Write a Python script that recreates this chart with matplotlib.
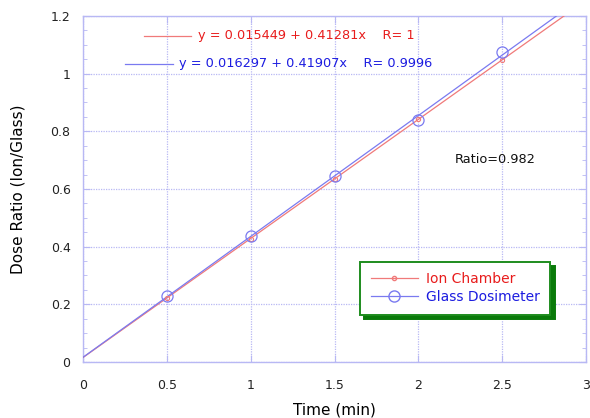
import matplotlib
matplotlib.use("Agg")
import matplotlib.pyplot as plt
from matplotlib.lines import Line2D
import numpy as np

plt.rcParams['font.family'] = ['DejaVu Sans']

# Measurements
time_min = [0.5, 1.0, 1.5, 2.0, 2.5]
ion_chamber = [0.222, 0.428, 0.635, 0.841, 1.047]
glass_dosimeter = [0.229, 0.4375, 0.646, 0.840, 1.076]

# Linear fit coefficients (intercept, slope, R)
ion_fit = (0.015449, 0.41281, 1)
glass_fit = (0.016297, 0.41907, 0.9996)
ratio = 0.982

x_ticks = [0, 0.5, 1, 1.5, 2, 2.5, 3]
y_ticks = [0, 0.2, 0.4, 0.6, 0.8, 1, 1.2]

RED_LINE = '#f07a7a'
BLUE_LINE = '#7a7af0'
RED_TEXT = '#e81c1c'
BLUE_TEXT = '#1c1ce0'
GRID = '#b8b8f4'

fig = plt.figure(figsize=(5.9, 4.18), dpi=100)
ax = fig.add_axes([0.1407, 0.134, 0.8525, 0.828])

xf = np.array([0.0, 3.0])
ax.plot(xf, ion_fit[0] + ion_fit[1] * xf, color=RED_LINE, lw=0.9, zorder=3)
ax.plot(xf, glass_fit[0] + glass_fit[1] * xf, color=BLUE_LINE, lw=0.9, zorder=3)
ax.plot(time_min, ion_chamber, 'o', ms=3, mfc='none', mec=RED_LINE, mew=0.8, zorder=4)
ax.plot(time_min, glass_dosimeter, 'o', ms=8, mfc='none', mec=BLUE_LINE, mew=0.9, zorder=4)

ax.set_xlim(0, 3)
ax.set_ylim(0, 1.2)
ax.set_xticks(x_ticks)
ax.set_xticklabels(['0', '0.5', '1', '1.5', '2', '2.5', '3'])
ax.set_yticks(y_ticks)
ax.set_yticklabels(['0', '0.2', '0.4', '0.6', '0.8', '1', '1.2'])
ax.set_yticks(np.arange(0, 1.2001, 0.05), minor=True)

ax.grid(True, which='major', color=GRID, ls=(0, (1, 1)), lw=0.9)
for s in ax.spines.values():
    s.set_color(GRID)
    s.set_linewidth(1.0)
ax.tick_params(which='both', direction='in', color=GRID, top=True, right=True,
               labelsize=9, labelcolor='#222222')
ax.tick_params(which='major', length=5)
ax.tick_params(which='minor', length=3)
ax.tick_params(axis='x', pad=12)
ax.tick_params(axis='y', pad=9)

ax.set_xlabel('Time (min)', fontsize=11, labelpad=8)
ax.set_ylabel('Dose Ratio (Ion/Glass)', fontsize=11, labelpad=18)

# Fit equations with their line keys
ax.add_line(Line2D([0.122, 0.215], [0.943, 0.943], transform=ax.transAxes,
                   color=RED_LINE, lw=0.9))
ax.text(0.229, 0.943, f'y = {ion_fit[0]} + {ion_fit[1]}x    R= {ion_fit[2]}',
        transform=ax.transAxes, color=RED_TEXT, fontsize=9.3, va='center')
ax.add_line(Line2D([0.083, 0.178], [0.862, 0.862], transform=ax.transAxes,
                   color=BLUE_LINE, lw=0.9))
ax.text(0.191, 0.862, f'y = {glass_fit[0]} + {glass_fit[1]}x    R= {glass_fit[2]}',
        transform=ax.transAxes, color=BLUE_TEXT, fontsize=9.3, va='center')

ax.text(0.74, 0.585, f'Ratio={ratio}', transform=ax.transAxes,
        color='#111111', fontsize=9.3, va='center')

handles = [
    Line2D([], [], color=RED_LINE, lw=0.9, marker='o', ms=3, mfc='none', mec=RED_LINE),
    Line2D([], [], color=BLUE_LINE, lw=0.9, marker='o', ms=8, mfc='none', mec=BLUE_LINE),
]
leg = ax.legend(handles, ['Ion Chamber', 'Glass Dosimeter'], loc='upper left',
                bbox_to_anchor=(0.551, 0.29), fontsize=10, frameon=True,
                fancybox=False, borderpad=0.75, handlelength=3.4,
                handletextpad=0.6, labelspacing=0.3, borderaxespad=0,
                shadow={'color': '#0a7a0a', 'alpha': 1, 'ox': 3, 'oy': -3})
leg.get_frame().set_edgecolor('#1e8c1e')
leg.get_frame().set_linewidth(1.4)
leg.get_frame().set_alpha(1)
for t, c in zip(leg.get_texts(), [RED_TEXT, BLUE_TEXT]):
    t.set_color(c)

fig.savefig('out.png', dpi=100)
